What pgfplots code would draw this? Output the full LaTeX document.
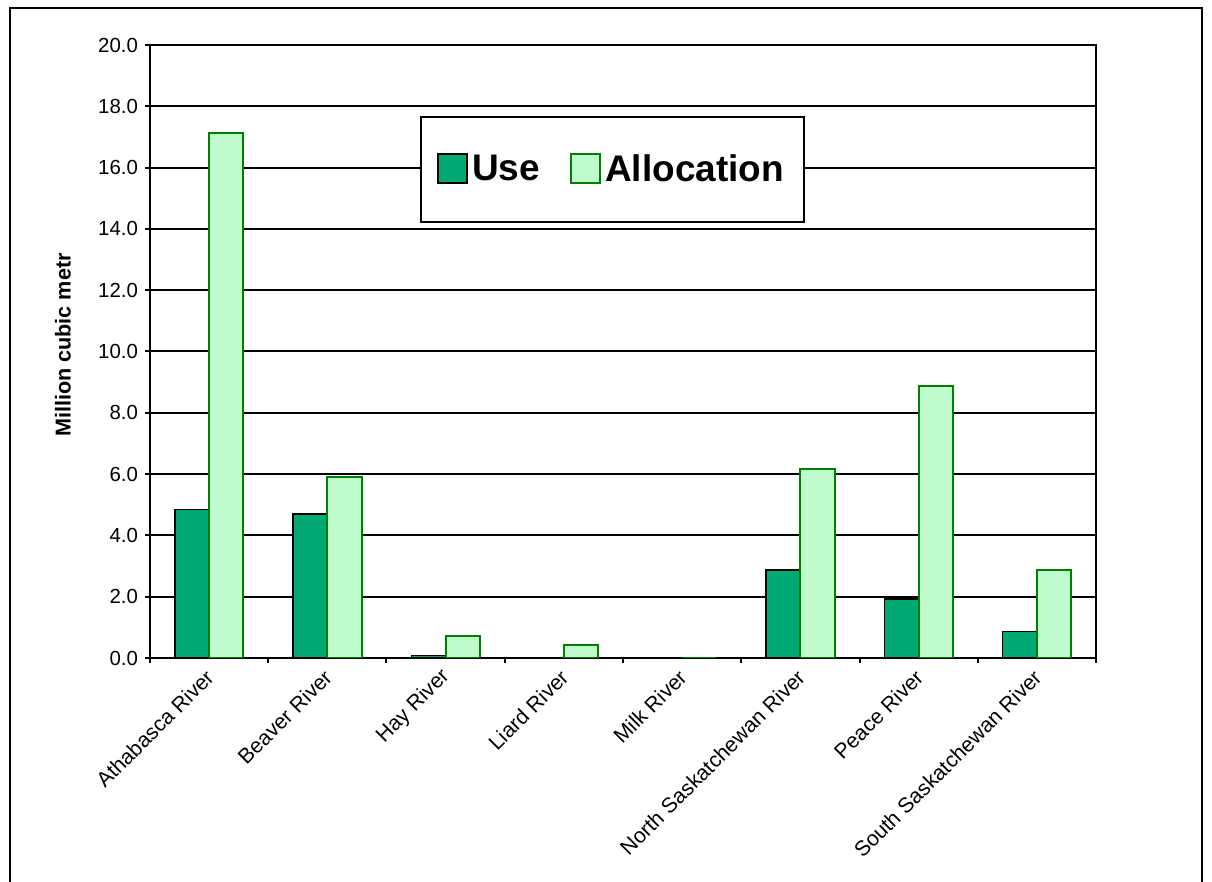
\documentclass[border=0pt]{standalone}
\usepackage{fontspec}
\setmainfont{Liberation Sans}
\usepackage{pgfplots}
\pgfplotsset{compat=1.18}
\definecolor{usegreen}{HTML}{00A874}
\definecolor{allocfill}{HTML}{BFFBCC}
\definecolor{allocedge}{HTML}{008000}

\pgfplotstableread{
x use alloc
0 4.85 17.13
1 4.70 5.92
2 0.08 0.72
3 0.00 0.44
4 0.00 0.00
5 2.87 6.17
6 1.93 8.87
7 0.86 2.87
}\riverdata

\begin{document}
\begin{tikzpicture}[x=1pt,y=1pt]
\path[use as bounding box] (0,0) rectangle (606,441);
% outer chart frame (open at the bottom)
\draw[line width=1pt] (5,-5) -- (5,437) -- (601,437) -- (601,-5);
\begin{axis}[
  at={(75pt,112pt)}, anchor=south west,
  width=473pt, height=306.5pt, scale only axis,
  xmin=-0.5, xmax=7.5, ymin=0, ymax=20,
  xtick={-0.5,0.5,...,7.5},
  x tick label as interval,
  xticklabels={Athabasca River,Beaver River,Hay River,Liard River,Milk River,North Saskatchewan River,Peace River,South Saskatchewan River},
  xticklabel style={rotate=45, anchor=east, yshift=-4pt, font=\fontsize{10.6}{12}\selectfont},
  ytick={0,2,...,20},
  yticklabel style={font=\fontsize{10.2}{12}\selectfont},
  /pgf/number format/.cd, fixed, fixed zerofill, precision=1, assume math mode=true, /pgfplots/.cd,
  xtick pos=lower, ytick pos=left,
  tick align=outside, major tick length=2.5pt,
  tick style={black, line width=1pt},
  axis line style={line width=1pt},
  ymajorgrids, major grid style={black, line width=1pt},
  ylabel={Million cubic metr},
  ylabel style={at={(axis description cs:-0.092,0.349)}, anchor=west, font=\bfseries\fontsize{10.8}{12}\selectfont},
  legend columns=2,
  legend style={at={(axis description cs:0.489,0.797)}, anchor=center, draw=black, line width=1pt,
    inner xsep=8pt, inner ysep=17pt, font=\bfseries\fontsize{18.5}{21}\selectfont,
    /tikz/every even column/.append style={column sep=13pt}},
]
\addplot[ybar, bar width=0.29, bar shift=-0.145, fill=usegreen, draw=black, line width=0.8pt,
  legend image code/.code={\draw[fill=usegreen, draw=black, line width=1pt] (0pt,-7pt) rectangle (14.5pt,7.5pt);}]
  table[x=x, y=use] {\riverdata};
\addlegendentry{Use}
\addplot[ybar, bar width=0.29, bar shift=0.145, fill=allocfill, draw=allocedge, line width=1pt,
  legend image code/.code={\draw[fill=allocfill, draw=allocedge, line width=1pt] (0pt,-7pt) rectangle (14.5pt,7.5pt);}]
  table[x=x, y=alloc] {\riverdata};
\addlegendentry{Allocation}
\end{axis}
\end{tikzpicture}
\end{document}
